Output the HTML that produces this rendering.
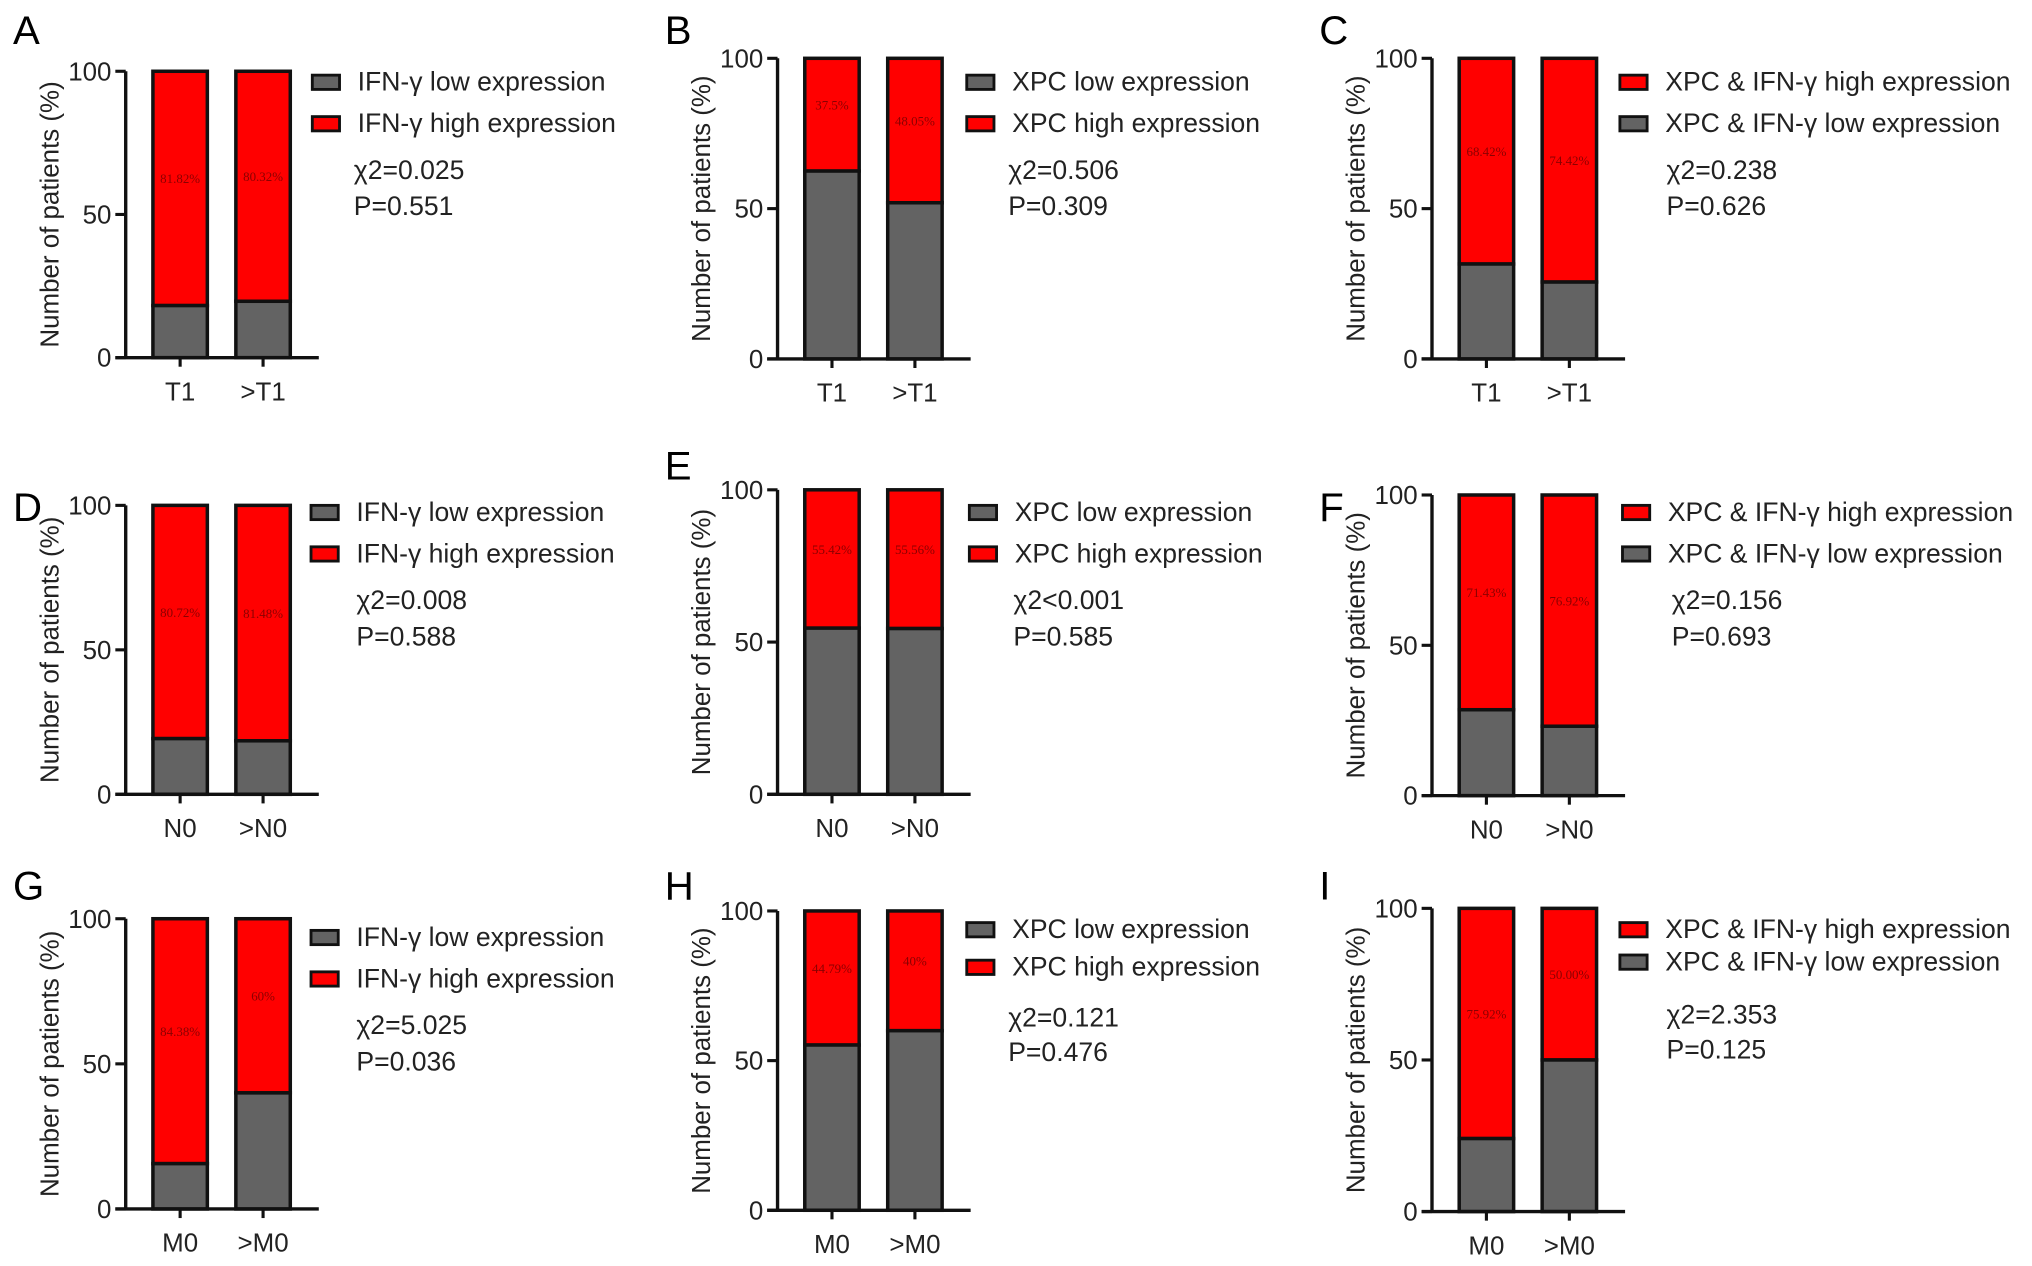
<!DOCTYPE html>
<html><head><meta charset="utf-8"><style>
html,body{margin:0;padding:0;background:#fff;}
svg{display:block;}
text{font-family:"Liberation Sans",sans-serif;}
</style></head><body>
<svg id="fig" width="2032" height="1266" viewBox="0 0 1568 977" preserveAspectRatio="none" xmlns="http://www.w3.org/2000/svg"></svg>
<script>
// ---- data ----
const categoriesRow1 = ["T1", ">T1"];
const categoriesRow2 = ["N0", ">N0"];
const categoriesRow3 = ["M0", ">M0"];
const lowA = [18.18, 19.68];
const lowB = [62.5, 51.95];
const lowC = [31.58, 25.58];
const lowD = [19.28, 18.52];
const lowE = [54.58, 54.44];
const lowF = [28.57, 23.08];
const lowG = [15.62, 40];
const lowH = [55.21, 60];
const lowI = [24.08, 50];
const labelsA = ["81.82%", "80.32%"];
const labelsB = ["37.5%", "48.05%"];
const labelsC = ["68.42%", "74.42%"];
const labelsD = ["80.72%", "81.48%"];
const labelsE = ["55.42%", "55.56%"];
const labelsF = ["71.43%", "76.92%"];
const labelsG = ["84.38%", "60%"];
const labelsH = ["44.79%", "40%"];
const labelsI = ["75.92%", "50.00%"];
const yTicks = [0, 50, 100];
const statsA = ["χ2=0.025", "P=0.551"];
const statsB = ["χ2=0.506", "P=0.309"];
const statsC = ["χ2=0.238", "P=0.626"];
const statsD = ["χ2=0.008", "P=0.588"];
const statsE = ["χ2<0.001", "P=0.585"];
const statsF = ["χ2=0.156", "P=0.693"];
const statsG = ["χ2=5.025", "P=0.036"];
const statsH = ["χ2=0.121", "P=0.476"];
const statsI = ["χ2=2.353", "P=0.125"];

// ---- layout ----
const G = "#636363", R = "#ff0000";
const ifn = [["IFN-γ low expression", G], ["IFN-γ high expression", R]];
const xpc = [["XPC low expression", G], ["XPC high expression", R]];
const both = [["XPC & IFN-γ high expression", R], ["XPC & IFN-γ low expression", G]];
const panels = [
 {id:"A",ax:97,top:55,bot:276,low:lowA,lab:labelsA,cat:categoriesRow1,leg:ifn,lx:241,ly:[63,95],st:statsA,sx:273,sy:[131,159],ly0:22},
 {id:"B",ax:600,top:45,bot:277,low:lowB,lab:labelsB,cat:categoriesRow1,leg:xpc,lx:746,ly:[63,95],st:statsB,sx:778,sy:[131,159],ly0:22},
 {id:"C",ax:1105,top:45,bot:277,low:lowC,lab:labelsC,cat:categoriesRow1,leg:both,lx:1250,ly:[63,95],st:statsC,sx:1286,sy:[131,159],ly0:22},
 {id:"D",ax:97,top:390,bot:613,low:lowD,lab:labelsD,cat:categoriesRow2,leg:ifn,lx:240,ly:[395,427],st:statsD,sx:275,sy:[463,491],ly0:390},
 {id:"E",ax:600,top:378,bot:613,low:lowE,lab:labelsE,cat:categoriesRow2,leg:xpc,lx:748,ly:[395,427],st:statsE,sx:782,sy:[463,491],ly0:358},
 {id:"F",ax:1105,top:382,bot:614,low:lowF,lab:labelsF,cat:categoriesRow2,leg:both,lx:1252,ly:[395,427],st:statsF,sx:1290,sy:[463,491],ly0:390},
 {id:"G",ax:97,top:709,bot:933,low:lowG,lab:labelsG,cat:categoriesRow3,leg:ifn,lx:240,ly:[723,755],st:statsG,sx:275,sy:[791,819],ly0:682},
 {id:"H",ax:600,top:703,bot:934,low:lowH,lab:labelsH,cat:categoriesRow3,leg:xpc,lx:746,ly:[717,746],st:statsH,sx:778,sy:[785,812],ly0:682},
 {id:"I",ax:1105,top:701,bot:935,low:lowI,lab:labelsI,cat:categoriesRow3,leg:both,lx:1250,ly:[717,742],st:statsI,sx:1286,sy:[783,810],ly0:682}
];
const svg = document.getElementById('fig');
const NS = "http://www.w3.org/2000/svg";
function mk(tag, attrs, parent, txt){
  const e = document.createElementNS(NS, tag);
  for (const k in attrs) e.setAttribute(k, attrs[k]);
  if (txt !== undefined) e.textContent = txt;
  parent.appendChild(e); return e;
}
panels.forEach(p => {
  const g = mk('g', {}, svg);
  
  
  const y = v => p.bot - (v / 100) * (p.bot - p.top);
  const barX = [p.ax + 21, p.ax + 85], bw = 42;
  const letter = mk('text', {x: p.ax - 87, y: p.ly0 + 12, 'font-size': 31}, g, p.id);
  
  
  p.low.forEach((v, i) => {
    const x = barX[i];
    const hi = mk('rect', {x: x, y: y(100), width: bw, height: y(v) - y(100), fill: R, stroke: '#111', 'stroke-width': 2.7}, g);
    
    
    const lo = mk('rect', {x: x, y: y(v), width: bw, height: y(0) - y(v), fill: G, stroke: '#111', 'stroke-width': 2.7}, g);
    
    
    const lt = mk('text', {x: x + bw / 2, y: (y(100) + y(v)) / 2 - 4, 'font-size': 10, fill: '#8b0000', 'text-anchor': 'middle', style: 'font-family:"Liberation Serif",serif'}, g, p.lab[i]);
    
    
    const tk = mk('line', {x1: x + bw / 2, x2: x + bw / 2, y1: p.bot, y2: p.bot + 7, stroke: '#111', 'stroke-width': 2.4}, g);
    
    
    const cl = mk('text', {x: x + bw / 2, y: p.bot + 33, 'font-size': 20, 'text-anchor': 'middle', fill: '#222'}, g, p.cat[i]);
    
    
  });
  const ya = mk('line', {x1: p.ax, x2: p.ax, y1: p.top, y2: p.bot, stroke: '#111', 'stroke-width': 2.6}, g);
  
  
  const xa = mk('line', {x1: p.ax - 8, x2: p.ax + 149, y1: p.bot, y2: p.bot, stroke: '#111', 'stroke-width': 2.6}, g);
  
  
  yTicks.forEach(t => {
    const tl = mk('line', {x1: p.ax - 8, x2: p.ax, y1: y(t), y2: y(t), stroke: '#111', 'stroke-width': 2.4}, g);
    
    
    const tt = mk('text', {x: p.ax - 11, y: y(t) + 7, 'font-size': 20, 'text-anchor': 'end', fill: '#222'}, g, String(t));
    
    
  });
  const cy = (p.top + p.bot) / 2;
  const yt = mk('text', {x: p.ax - 58, y: cy, 'font-size': 20, 'text-anchor': 'middle', fill: '#222', transform: `rotate(-90 ${p.ax - 58} ${cy})`, dy: 6}, g, 'Number of patients (%)');
  
  
  p.leg.forEach((l, i) => {
    const sw = mk('rect', {x: p.lx, y: p.ly[i] - 5, width: 21, height: 11, fill: l[1], stroke: '#111', 'stroke-width': 2.2}, g);
    
    
    const lt = mk('text', {x: p.lx + 35, y: p.ly[i] + 7, 'font-size': 20.5, fill: '#222'}, g, l[0]);
    
    
  });
  p.st.forEach((s, i) => {
    const st = mk('text', {x: p.sx, y: p.sy[i] + 7, 'font-size': 20.5, fill: '#222'}, g, s);
    
    
  });
});
</script>
</body></html>
